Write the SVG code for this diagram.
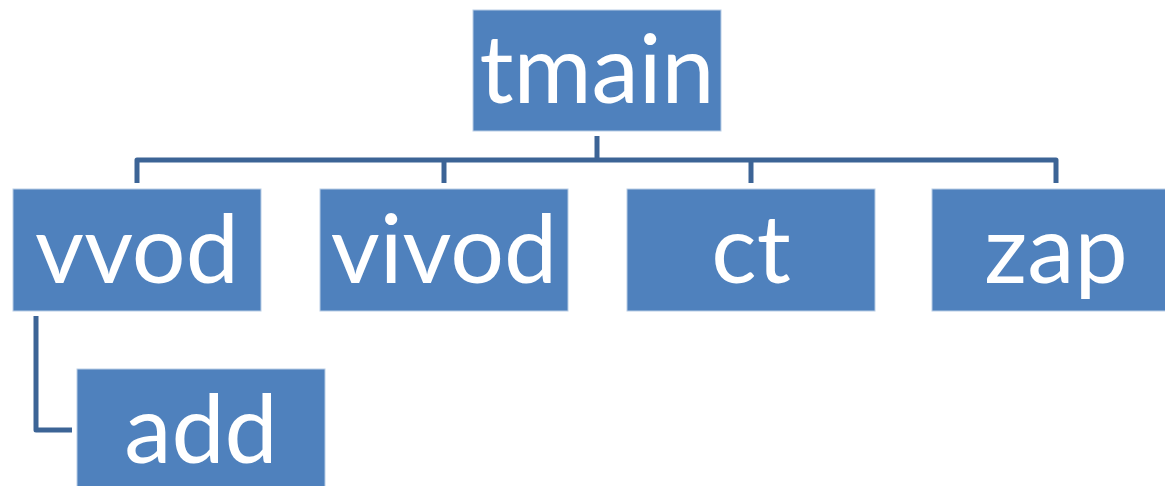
<svg xmlns="http://www.w3.org/2000/svg" width="1165" height="486" viewBox="0 0 1165 486">
<style>
.box{fill:#4F81BD;stroke:#B9CDE5;stroke-width:1}
.lbl{font-family:Lato,"Open Sans",sans-serif;font-size:95px;fill:#FFFFFF;text-anchor:middle}
.con{fill:none;stroke:#3C6496;stroke-width:5;stroke-linejoin:round}
</style>
<rect width="1165" height="486" fill="#FFFFFF"/>
<g id="connectors">
<path class="con" d="M597,136 V160"/>
<path class="con" d="M137,183 V160 H1056 V183"/>
<path class="con" d="M444,160 V183"/>
<path class="con" d="M751,160 V183"/>
<path class="con" d="M36,316 V430 H72"/>
</g>
<g id="tmain"><rect class="box" x="473" y="10" width="248" height="121"/><text class="lbl" x="597" y="103">tmain</text></g>
<g id="vvod"><rect class="box" x="13" y="189" width="248" height="122"/><text class="lbl" x="137" y="283">vvod</text></g>
<g id="vivod"><rect class="box" x="320" y="189" width="248" height="122"/><text class="lbl" x="444" y="283">vivod</text></g>
<g id="ct"><rect class="box" x="627" y="189" width="248" height="122"/><text class="lbl" x="751" y="283">ct</text></g>
<g id="zap"><rect class="box" x="932" y="189" width="248" height="122"/><text class="lbl" x="1056" y="283">zap</text></g>
<g id="add"><rect class="box" x="77" y="369" width="248" height="122"/><text class="lbl" x="201" y="463">add</text></g>
</svg>
